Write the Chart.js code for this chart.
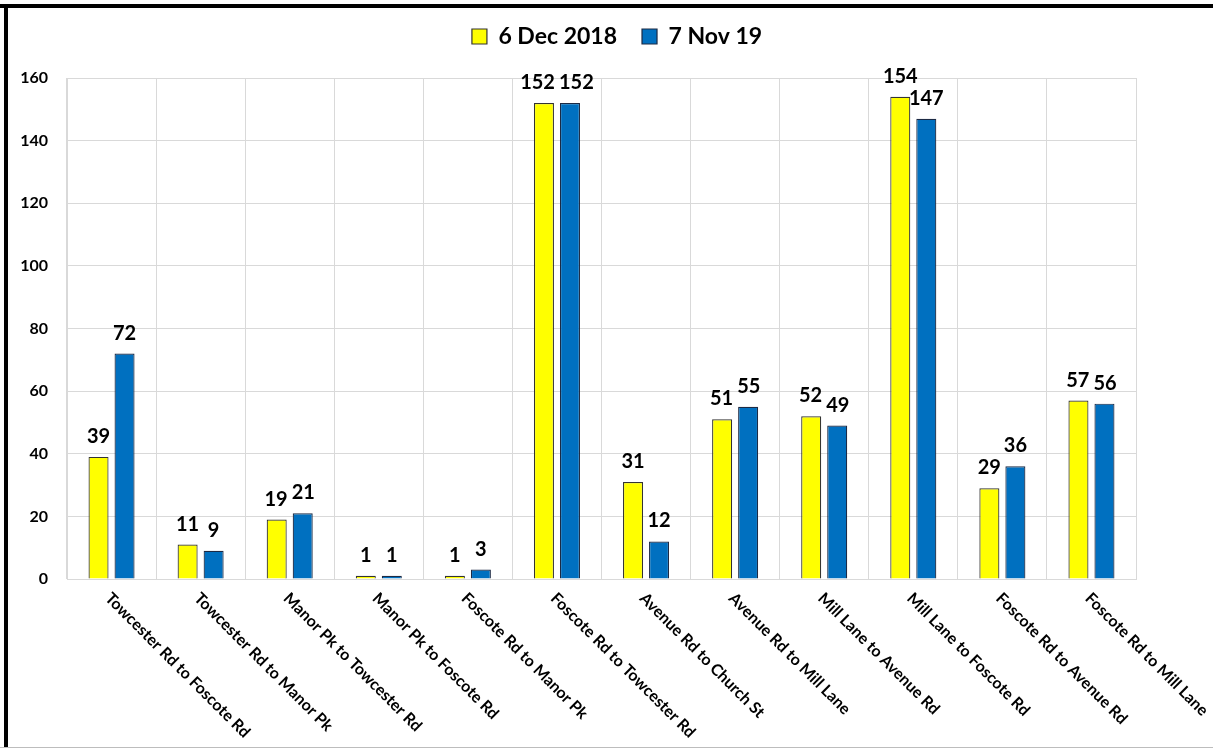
<!DOCTYPE html>
<html>
<head>
<meta charset="utf-8">
<title>Route counts</title>
<script src="https://cdn.jsdelivr.net/npm/chart.js@4.4.1/dist/chart.umd.min.js"></script>
<style>
    html, body { margin: 0; padding: 0; background: #fff; }
    #wrap { position: relative; width: 1213px; height: 749px; }
</style>
</head>
<body>
<div id="wrap"><canvas id="routeChart"></canvas></div>
<script>
// ── Data ──────────────────────────────────────────────────────────────────────

const routes = [
    'Towcester Rd to Foscote Rd',
    'Towcester Rd to Manor Pk',
    'Manor Pk to Towcester Rd',
    'Manor Pk to Foscote Rd',
    'Foscote Rd to Manor Pk',
    'Foscote Rd to Towcester Rd',
    'Avenue Rd to Church St',
    'Avenue Rd to Mill Lane',
    'Mill Lane to Avenue Rd',
    'Mill Lane to Foscote Rd',
    'Foscote Rd to Avenue Rd',
    'Foscote Rd to Mill Lane',
];
const seriesNames = ['6 Dec 2018', '7 Nov 19'];
const countsDec2018 = [39, 11, 19, 1, 1, 152, 31, 51, 52, 154, 29, 57];
const countsNov2019 = [72, 9, 21, 1, 3, 152, 12, 55, 49, 147, 36, 56];
const yMin = 0;
const yMax = 160;
const yStep = 20;

const FONT = 'Lato, "Open Sans", sans-serif';
const gridGrey = '#d9d9d9';

// ── Plugins ───────────────────────────────────────────────────────────────────

// white page with the heavy black frame on top / left
const framePlugin = {
    id: 'frame',
    afterLayout(chart) {
        // legend sits a bit right of the canvas centre in the original
        if (chart.legend) chart.legend.left += 90;
    },
    beforeDraw(chart) {
        const { ctx, width, height } = chart;
        ctx.save();
        ctx.fillStyle = '#fff';
        ctx.fillRect(0, 0, width, height);
        ctx.fillStyle = '#000';
        ctx.fillRect(0, 4, width, 4);
        ctx.fillRect(4, 4, 4, height - 5);
        ctx.fillStyle = '#bdbdbd';
        ctx.fillRect(0, height - 2, width, 1);
        ctx.restore();
    },
};

// value above each bar, pushed apart when two labels in a group collide
const barValuesPlugin = {
    id: 'barValues',
    afterDatasetsDraw(chart) {
        const { ctx } = chart;
        ctx.save();
        ctx.font = `bold 20px ${FONT}`;
        ctx.fillStyle = '#000';
        ctx.textAlign = 'center';
        ctx.textBaseline = 'alphabetic';
        const metaA = chart.getDatasetMeta(0).data;
        const metaB = chart.getDatasetMeta(1).data;
        const dsA = chart.data.datasets[0].data;
        const dsB = chart.data.datasets[1].data;
        metaA.forEach((barA, i) => {
            const barB = metaB[i];
            const textA = String(dsA[i]);
            const textB = String(dsB[i]);
            let xA = barA.x;
            let xB = barB.x;
            const yA = barA.y - 14;
            const yB = barB.y - 14;
            const wA = ctx.measureText(textA).width;
            const wB = ctx.measureText(textB).width;
            const overlap = (xA + wA / 2) - (xB - wB / 2) + 4;
            if (overlap > 0 && Math.abs(yA - yB) < 15) {
                xA -= overlap / 2;
                xB += overlap / 2;
            }
            ctx.fillText(textA, xA, yA);
            ctx.fillText(textB, xB, yB);
        });
        ctx.restore();
    },
};

// category labels slanting down to the right from each tick
const slantLabelsPlugin = {
    id: 'slantLabels',
    afterDraw(chart) {
        const { ctx, chartArea } = chart;
        const xScale = chart.scales.x;
        ctx.save();
        ctx.font = `bold 16px ${FONT}`;
        ctx.fillStyle = '#000';
        ctx.textAlign = 'left';
        ctx.textBaseline = 'top';
        chart.data.labels.forEach((label, i) => {
            const x = xScale.getPixelForTick(i);
            ctx.save();
            ctx.translate(x + 2, chartArea.bottom + 11);
            ctx.rotate(Math.PI / 4);
            ctx.fillText(label, 0, 0);
            ctx.restore();
        });
        ctx.restore();
    },
};

// ── Chart ─────────────────────────────────────────────────────────────────────

new Chart(document.getElementById('routeChart'), {
    type: 'bar',
    data: {
        labels: routes,
        datasets: [
            {
                label: seriesNames[0],
                data: countsDec2018,
                backgroundColor: '#ffff00',
                borderColor: '#333333',
                borderWidth: 1.2,
                xAxisID: 'x',
            },
            {
                label: seriesNames[1],
                data: countsNov2019,
                backgroundColor: '#0070c0',
                borderColor: '#1c2a44',
                borderWidth: 1.2,
                xAxisID: 'x',
            },
        ],
    },
    options: {
        responsive: true,
        maintainAspectRatio: false,
        animation: false,
        categoryPercentage: 0.584,
        barPercentage: 0.77,
        layout: { padding: { top: 0, left: 8, right: 77, bottom: 0 } },
        plugins: {
            tooltip: { enabled: false },
            legend: {
                position: 'top',
                labels: {
                    color: '#000',
                    boxWidth: 15,
                    boxHeight: 15,
                    padding: 25,
                    font: { family: FONT, size: 23, weight: 'bold' },
                },
            },
        },
        scales: {
            xTop: {
                type: 'category',
                position: 'top',
                grid: { display: false },
                border: { display: false },
                ticks: { display: false },
                afterFit(scale) { scale.height = 20; },
            },
            x: {
                position: 'bottom',
                grid: { color: gridGrey, lineWidth: 1, drawTicks: false, offset: true },
                border: { color: gridGrey },
                ticks: { display: false },
                afterFit(scale) { scale.height = 170; },
            },
            y: {
                min: yMin,
                max: yMax,
                grid: { color: gridGrey, lineWidth: 1, drawTicks: false },
                border: { color: gridGrey },
                ticks: {
                    stepSize: yStep,
                    padding: 19,
                    color: '#000',
                    font: { family: FONT, size: 16, weight: 'bold' },
                },
                afterFit(scale) { scale.width = 59; },
            },
        },
    },
    plugins: [framePlugin, barValuesPlugin, slantLabelsPlugin],
});
</script>
</body>
</html>
